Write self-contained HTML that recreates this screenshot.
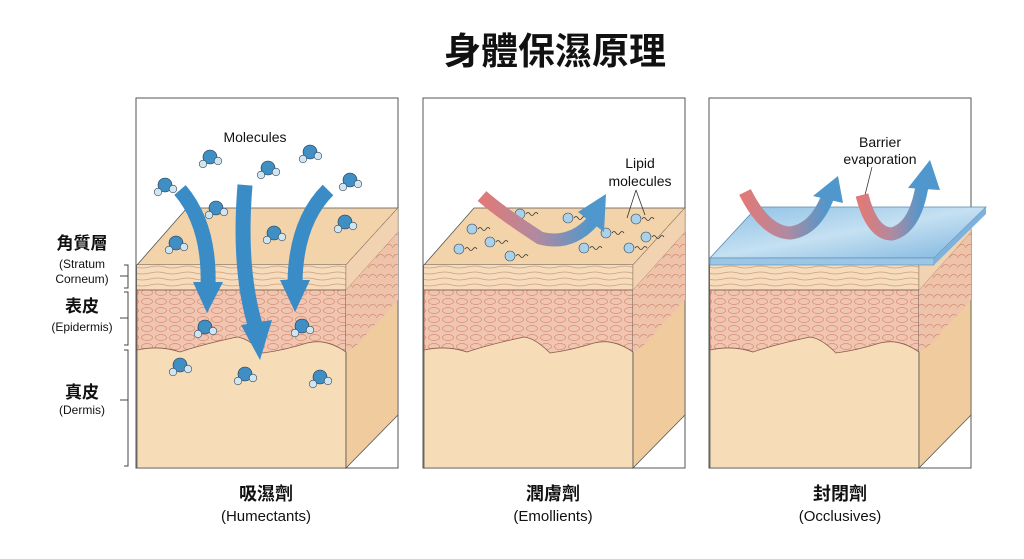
<!DOCTYPE html>
<html><head><meta charset="utf-8"><style>
html,body{margin:0;padding:0;background:#fff}
svg{display:block}
text{font-family:"Liberation Sans","Noto Sans CJK TC",sans-serif;fill:#111}
</style></head><body>
<svg width="1024" height="559" viewBox="0 0 1024 559" xmlns="http://www.w3.org/2000/svg">
<defs>
<pattern id="cells" width="14" height="9" patternUnits="userSpaceOnUse">
<rect width="14" height="9" fill="#f1c6b0"/>
<ellipse cx="7" cy="4.5" rx="5.5" ry="3" fill="none" stroke="#d88a78" stroke-width="0.7"/>
</pattern>
<pattern id="sc" width="30" height="6" patternUnits="userSpaceOnUse">
<rect width="30" height="6" fill="#f6dcbd"/>
<path d="M0,3 Q8,1 15,3 T30,3" fill="none" stroke="#c9a07a" stroke-width="0.7"/>
</pattern>
<pattern id="side" width="8" height="10" patternUnits="userSpaceOnUse">
<rect width="8" height="10" fill="#eec3aa"/>
<path d="M0,8 Q4,2 8,6" fill="none" stroke="#d08e76" stroke-width="0.7"/>
</pattern>
<linearGradient id="rib" x1="0" y1="0" x2="1" y2="0">
<stop offset="0" stop-color="#e07a78"/><stop offset="0.5" stop-color="#b08aa0"/><stop offset="1" stop-color="#4f97cc"/>
</linearGradient>
<linearGradient id="blue" x1="0" y1="0" x2="1" y2="1">
<stop offset="0" stop-color="#8cc0e4"/><stop offset="0.5" stop-color="#c5e0f2"/><stop offset="1" stop-color="#7fb6df"/>
</linearGradient>
<g id="panel">
<rect x="136" y="98" width="262" height="370" fill="#fff" stroke="#555" stroke-width="1"/>
<polygon points="137,265 187,208 398,208 346,265" fill="#f2d3aa" stroke="#555" stroke-width="0.8"/>
<rect x="137" y="265" width="209" height="203" fill="#f6ddb8" stroke="#555" stroke-width="0.8"/>
<rect x="137" y="265" width="209" height="25" fill="url(#sc)"/>
<path d="M137,290 H346 V352 Q326,338 307,343 Q285,350 263,353 Q248,338 237,337 Q200,345 180,352 Q160,345 137,350 Z" fill="url(#cells)" stroke="#8a5a4a" stroke-width="0.8"/>
<line x1="137" y1="290" x2="346" y2="290" stroke="#8a6a50" stroke-width="0.8"/>
<polygon points="346,265 398,208 398,415 346,468" fill="#efcb9e" stroke="#555" stroke-width="0.8"/>
<path d="M346,265 L398,208 L398,300 Q380,320 370,330 Q360,345 346,352 Z" fill="url(#side)"/>
<path d="M346,265 L398,208 L398,232 L346,290 Z" fill="#f1d3b2" stroke="#b08a68" stroke-width="0.5"/>
</g>
<g id="w"><circle cx="0" cy="0" r="7" fill="#3f8fc4" stroke="#234" stroke-width="0.6"/><circle cx="-7" cy="7" r="3.8" fill="#cfe6f2" stroke="#345" stroke-width="0.6"/><circle cx="8" cy="4" r="3.8" fill="#cfe6f2" stroke="#345" stroke-width="0.6"/></g>
<g id="l"><circle cx="0" cy="0" r="5" fill="#a9d2ea" stroke="#345" stroke-width="0.6"/><path d="M6,0 q2,-3 4,0 t4,0 t4,0" fill="none" stroke="#333" stroke-width="0.7"/></g>
</defs>

<text x="555" y="64" font-size="37" font-weight="bold" text-anchor="middle">身體保濕原理</text>

<g font-size="12">
<text x="82" y="249" font-size="17" font-weight="bold" text-anchor="middle">角質層</text>
<text x="82" y="268" text-anchor="middle">(Stratum</text>
<text x="82" y="283" text-anchor="middle">Corneum)</text>
<text x="82" y="312" font-size="17" font-weight="bold" text-anchor="middle">表皮</text>
<text x="82" y="331" text-anchor="middle">(Epidermis)</text>
<text x="82" y="398" font-size="17" font-weight="bold" text-anchor="middle">真皮</text>
<text x="82" y="414" text-anchor="middle">(Dermis)</text>
</g>
<g fill="none" stroke="#444" stroke-width="1">
<path d="M124,265 H128 V288 H124 M128,276 H120"/>
<path d="M124,292 H128 V345 H124 M128,318 H120"/>
<path d="M124,350 H128 V466 H124 M128,400 H120"/>
</g>

<use href="#panel"/>
<use href="#panel" x="287"/>
<use href="#panel" x="573"/>

<!-- Panel 1 -->
<text x="255" y="142" font-size="14" text-anchor="middle">Molecules</text>
<use href="#w" x="165" y="185"/><use href="#w" x="210" y="157"/><use href="#w" x="268" y="168"/>
<use href="#w" x="310" y="152"/><use href="#w" x="350" y="180"/><use href="#w" x="216" y="208"/>
<use href="#w" x="176" y="243"/><use href="#w" x="274" y="233"/><use href="#w" x="345" y="222"/>
<use href="#w" x="205" y="327"/><use href="#w" x="302" y="326"/><use href="#w" x="180" y="365"/>
<use href="#w" x="245" y="374"/><use href="#w" x="320" y="377"/>
<g fill="none" stroke="#3a8cc6" stroke-width="15">
<path d="M180,190 Q210,225 208,286"/>
<path d="M245,185 Q238,270 256,328"/>
<path d="M328,190 Q296,222 295,282"/>
</g>
<g fill="#3a8cc6">
<polygon points="193,282 223,282 207,313"/>
<polygon points="241,325 272,320 260,360"/>
<polygon points="280,280 310,280 295,312"/>
</g>

<!-- Panel 2 -->
<text x="640" y="168" font-size="14" text-anchor="middle">Lipid</text>
<text x="640" y="186" font-size="14" text-anchor="middle">molecules</text>
<path d="M636,190 L627,218 M636,190 L645,215" stroke="#333" fill="none" stroke-width="0.8"/>
<use href="#l" x="459" y="249"/><use href="#l" x="472" y="229"/><use href="#l" x="490" y="242"/>
<use href="#l" x="510" y="256"/><use href="#l" x="520" y="214"/><use href="#l" x="568" y="218"/>
<use href="#l" x="584" y="248"/><use href="#l" x="606" y="233"/><use href="#l" x="629" y="248"/>
<use href="#l" x="646" y="237"/><use href="#l" x="636" y="219"/>
<path d="M482,196 Q500,212 540,238 Q570,246 592,222" fill="none" stroke="url(#rib)" stroke-width="13"/>
<polygon points="578,212 604,232 606,194" fill="#4f97cc"/>

<!-- Panel 3 -->
<polygon points="710,258 757,207 986,207 934,258" fill="url(#blue)" stroke="#5a8ab0" stroke-width="0.8"/>
<rect x="710" y="258" width="224" height="7" fill="#9cc6e6" stroke="#5a8ab0" stroke-width="0.6"/>
<polygon points="934,258 986,207 986,214 934,265" fill="#7fb2da"/>
<text x="880" y="147" font-size="14" text-anchor="middle">Barrier</text>
<text x="880" y="164" font-size="14" text-anchor="middle">evaporation</text>
<path d="M872,167 L865,195" stroke="#333" stroke-width="0.8"/>
<path d="M745,192 Q765,232 790,233 Q815,230 828,196" fill="none" stroke="url(#rib)" stroke-width="13"/>
<polygon points="813,196 843,203 838,176" fill="#4f97cc"/>
<path d="M862,195 Q872,234 892,234 Q915,228 922,186" fill="none" stroke="url(#rib)" stroke-width="13"/>
<polygon points="908,188 940,190 930,160" fill="#4f97cc"/>

<g text-anchor="middle">
<text x="266" y="500" font-size="18" font-weight="bold">吸濕劑</text>
<text x="266" y="521" font-size="15">(Humectants)</text>
<text x="553" y="500" font-size="18" font-weight="bold">潤膚劑</text>
<text x="553" y="521" font-size="15">(Emollients)</text>
<text x="840" y="500" font-size="18" font-weight="bold">封閉劑</text>
<text x="840" y="521" font-size="15">(Occlusives)</text>
</g>
</svg>
</body></html>
